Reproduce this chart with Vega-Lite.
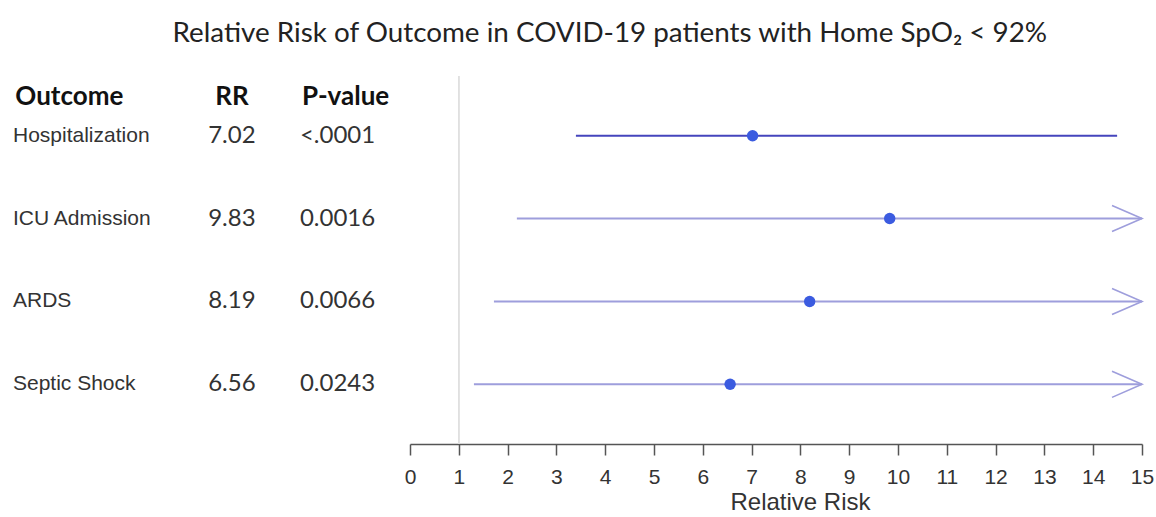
{
  "$schema": "https://vega.github.io/schema/vega-lite/v6.json",
  "padding": {"left": 0, "top": 19, "right": 0, "bottom": 0},
  "background": "white",
  "bounds": "flush",
  "spacing": 0,
  "config": {"view": {"stroke": null}, "axis": {"grid": false}},
  "title": {
    "text": "Relative Risk of Outcome in COVID-19 patients with Home SpO₂ < 92%",
    "font": "Lato", "fontSize": 27.8, "fontWeight": "normal", "color": "#222",
    "anchor": "middle", "dx": 33, "offset": 28
  },
  "data": {
    "values": [
      {"Outcome": "Hospitalization", "RR": 7.02, "P": "<.0001", "lower": 3.40, "upper": 14.49, "truncated": false},
      {"Outcome": "ICU Admission", "RR": 9.83, "P": "0.0016", "lower": 2.19, "upper": 15, "truncated": true},
      {"Outcome": "ARDS", "RR": 8.19, "P": "0.0066", "lower": 1.72, "upper": 15, "truncated": true},
      {"Outcome": "Septic Shock", "RR": 6.56, "P": "0.0243", "lower": 1.31, "upper": 15, "truncated": true}
    ]
  },
  "hconcat": [
    {
      "width": 410,
      "height": 368,
      "layer": [
        {
          "mark": {"type": "text", "align": "left", "baseline": "middle", "font": "Liberation Sans", "fontSize": 21, "color": "#333"},
          "encoding": {
            "x": {
              "datum": "Outcome", "type": "nominal", "bandPosition": 0.095,
              "scale": {"type": "band", "domain": ["Outcome", "RR", "P-value"], "paddingInner": 0, "paddingOuter": 0},
              "axis": {
                "orient": "top", "title": null, "domain": false, "ticks": false, "tickSize": 0,
                "labelPadding": 0, "offset": -20, "labelBaseline": "middle", "labelAngle": 0,
                "labelFont": "Lato", "labelFontWeight": "bold", "labelFontSize": 26, "labelColor": "#111",
                "labelAlign": {"expr": "datum.value == 'Outcome' ? 'left' : 'center'"},
                "labelOffset": {"expr": "datum.value == 'Outcome' ? -53 : (datum.value == 'RR' ? 27 : 4)"}
              }
            },
            "y": {"field": "Outcome", "type": "nominal", "sort": ["Hospitalization", "ICU Admission", "ARDS", "Septic Shock"], "scale": {"type": "point", "padding": 0.72}, "axis": null},
            "text": {"field": "Outcome", "type": "nominal"}
          }
        },
        {
          "mark": {"type": "text", "align": "center", "baseline": "middle", "font": "Lato", "fontSize": 24, "color": "#333"},
          "encoding": {
            "x": {"datum": "RR", "type": "nominal", "bandPosition": 0.697},
            "y": {"field": "Outcome", "type": "nominal", "sort": ["Hospitalization", "ICU Admission", "ARDS", "Septic Shock"], "axis": null},
            "text": {"field": "RR", "type": "quantitative", "format": ".2f"}
          }
        },
        {
          "mark": {"type": "text", "align": "center", "baseline": "middle", "font": "Lato", "fontSize": 24, "color": "#333"},
          "encoding": {
            "x": {"datum": "P-value", "type": "nominal", "bandPosition": 0.47},
            "y": {"field": "Outcome", "type": "nominal", "sort": ["Hospitalization", "ICU Admission", "ARDS", "Septic Shock"], "axis": null},
            "text": {"field": "P", "type": "nominal"}
          }
        }
      ]
    },
    {
      "width": 732,
      "height": 368,
      "layer": [
        {
          "mark": {"type": "rule", "color": "#e0e0e0", "strokeWidth": 1.2},
          "encoding": {"x": {"datum": 1, "type": "quantitative"}}
        },
        {
          "mark": {"type": "rule", "strokeWidth": 2},
          "encoding": {
            "x": {
              "field": "lower", "type": "quantitative",
              "scale": {"domain": [0, 15], "nice": false, "zero": false},
              "axis": {
                "values": [0, 1, 2, 3, 4, 5, 6, 7, 8, 9, 10, 11, 12, 13, 14, 15],
                "tickSize": 11, "tickColor": "#555", "tickWidth": 1.5,
                "domainColor": "#555", "domainWidth": 1.5,
                "labelFont": "Liberation Sans", "labelFontSize": 21, "labelColor": "#333",
                "labelPadding": 11, "labelFlush": false, "labelOverlap": false,
                "title": "Relative Risk", "titleFont": "Liberation Sans", "titleFontSize": 24,
                "titleFontWeight": "normal", "titleColor": "#333",
                "titleX": 390, "titleY": 46, "titleBaseline": "top", "titleAlign": "center"
              }
            },
            "x2": {"field": "upper"},
            "y": {"field": "Outcome", "type": "nominal", "sort": ["Hospitalization", "ICU Admission", "ARDS", "Septic Shock"], "scale": {"type": "point", "padding": 0.72}, "axis": null},
            "color": {"condition": {"test": "datum.truncated", "value": "#9e9edc"}, "value": "#4545bd"}
          }
        },
        {
          "transform": [{"filter": "datum.truncated"}],
          "mark": {"type": "point", "shape": "M-2,-0.87L0,0L-2,0.87", "filled": false, "size": 900, "color": "#9e9edc", "strokeWidth": 1.6, "opacity": 1},
          "encoding": {
            "x": {"field": "upper", "type": "quantitative"},
            "y": {"field": "Outcome", "type": "nominal", "sort": ["Hospitalization", "ICU Admission", "ARDS", "Septic Shock"], "axis": null}
          }
        },
        {
          "mark": {"type": "circle", "size": 130, "color": "#3b5be0", "opacity": 1},
          "encoding": {
            "x": {"field": "RR", "type": "quantitative"},
            "y": {"field": "Outcome", "type": "nominal", "sort": ["Hospitalization", "ICU Admission", "ARDS", "Septic Shock"], "axis": null}
          }
        }
      ]
    }
  ]
}
